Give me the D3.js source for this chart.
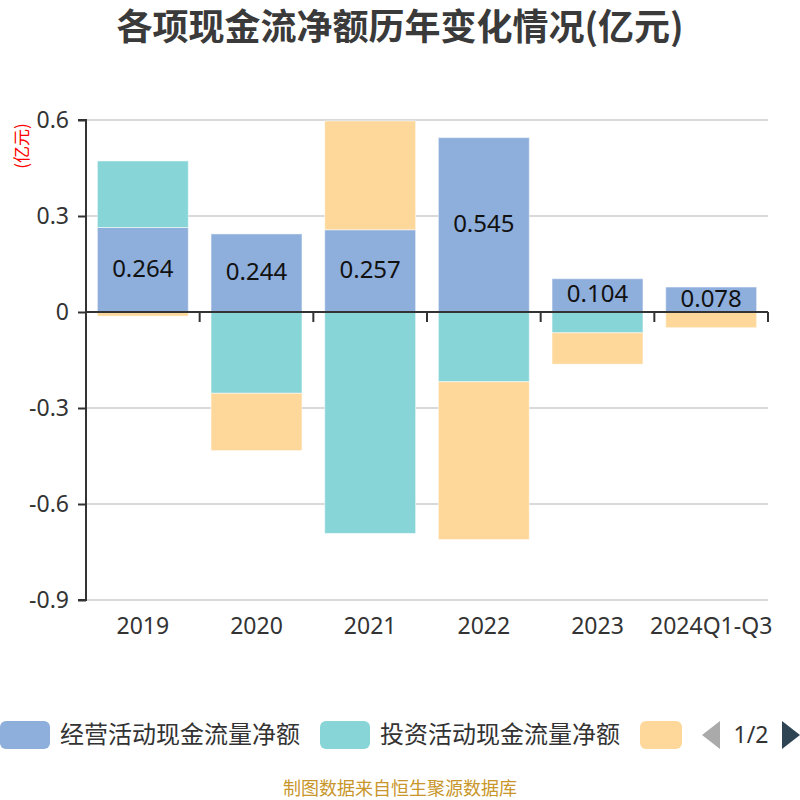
<!DOCTYPE html>
<html><head><meta charset="utf-8">
<script src="https://cdn.jsdelivr.net/npm/d3@7"></script>
<style>body{margin:0;background:#fff;}svg{display:block;font-family:"Noto Sans CJK SC","Noto Sans",sans-serif;}</style>
</head><body>
<svg id="c" width="800" height="800"></svg>
<script>
const categories = ["2019","2020","2021","2022","2023","2024Q1-Q3"];
const operating = [0.264, 0.244, 0.257, 0.545, 0.104, 0.078];
const investing = [0.208, -0.254, -0.692, -0.218, -0.065, 0];
const financing = [-0.013, -0.179, 0.340, -0.493, -0.098, -0.049];
const seriesNames = ["经营活动现金流量净额","投资活动现金流量净额","筹资活动现金流量净额"];
const colors = ["#8eaedb","#88d5d8","#fed89b"];
const yTicks = [-0.9,-0.6,-0.3,0,0.3,0.6];
const yTickLabels = ["-0.9","-0.6","-0.3","0","0.3","0.6"];

(function(){
const svg = d3.select("#c");
const pL = 86, pR = 768, pT = 120, pB = 600;
const x = d3.scaleBand().domain(categories).range([pL, pR]).paddingInner(0.2).paddingOuter(0.1);
const xb = d3.scaleBand().domain(categories).range([pL, pR]);
const y = d3.scaleLinear().domain([-0.9, 0.6]).range([pB, pT]);
const numFont = "'Noto Sans',sans-serif";

// title
svg.append("text").attr("x",400).attr("y",40).attr("text-anchor","middle")
  .attr("font-size",36).attr("font-weight","bold").attr("fill","#3a3a3a").text("各项现金流净额历年变化情况(亿元)");

// unit
svg.append("text").attr("transform","translate(28,146) rotate(-90)").attr("text-anchor","middle")
  .attr("font-size",17).attr("fill","#ff0000").text("(亿元)");

// gridlines
svg.append("g").selectAll("line").data(yTicks.filter(d=>d!==0)).join("line")
  .attr("x1",pL).attr("x2",pR).attr("y1",d=>y(d)).attr("y2",d=>y(d))
  .attr("stroke","#cccccc").attr("stroke-width",1.5);

// stacked bars
const series = [operating, investing, financing];
const g = svg.append("g");
categories.forEach((c,i)=>{
  let pos = 0, neg = 0;
  series.forEach((s,k)=>{
    const v = s[i];
    if (!v) return;
    let y0, y1;
    if (v >= 0) { y0 = pos; y1 = pos + v; pos = y1; }
    else { y0 = neg; y1 = neg + v; neg = y1; }
    const yt = y(Math.max(y0,y1)), yb2 = y(Math.min(y0,y1));
    g.append("rect").attr("x",x(c)).attr("width",x.bandwidth())
      .attr("y",yt).attr("height",yb2-yt).attr("fill",colors[k])
      .attr("stroke","#ffffff").attr("stroke-opacity",0.5).attr("stroke-width",1);
  });
});

// value labels
svg.append("g").selectAll("text").data(categories).join("text")
  .attr("x",c=>x(c)+x.bandwidth()/2)
  .attr("y",(c,i)=>(y(0)+y(operating[i]))/2+7)
  .attr("text-anchor","middle").attr("font-size",24).attr("fill","#111").attr("font-family",numFont)
  .text((c,i)=>operating[i].toFixed(3));

// y axis
const yAxis = d3.axisLeft(y).tickValues(yTicks).tickSize(8).tickPadding(9)
  .tickFormat((d,i)=>yTickLabels[i]);
const ya = svg.append("g").attr("transform",`translate(${pL},0)`).call(yAxis);
ya.select(".domain").attr("stroke","#333").attr("stroke-width",2).attr("d",`M-8,${pT}H0V${pB}H-8`);
ya.selectAll(".tick line").attr("stroke","#333").attr("stroke-width",2);
ya.selectAll(".tick text").attr("font-size",23).attr("fill","#333").attr("font-family",numFont);

// x axis at zero
const xa = svg.append("g").attr("transform",`translate(0,${y(0)})`);
xa.append("line").attr("x1",pL).attr("x2",pR).attr("stroke","#333").attr("stroke-width",2);
xa.selectAll("line.t").data(categories).join("line").attr("class","t")
  .attr("x1",c=>xb(c)+xb.bandwidth()).attr("x2",c=>xb(c)+xb.bandwidth())
  .attr("y1",0).attr("y2",10).attr("stroke","#333").attr("stroke-width",2);

// x labels
svg.append("g").selectAll("text").data(categories).join("text")
  .attr("x",c=>xb(c)+xb.bandwidth()/2).attr("y",634).attr("text-anchor","middle")
  .attr("font-size",23).attr("fill","#333").attr("font-family",numFont).text(c=>c);

// legend
const lg = svg.append("g");
const legX = [0, 320, 640];
seriesNames.forEach((n,k)=>{
  const w = k===2 ? 42 : 50;
  lg.append("rect").attr("x",legX[k]).attr("y",721).attr("width",w).attr("height",28).attr("rx",6)
    .attr("fill",colors[k]);
  if (k<2) lg.append("text").attr("x",legX[k]+60).attr("y",743).attr("font-size",24).attr("fill","#333").text(n);
});
lg.append("path").attr("d","M720,721L702,735L720,749Z").attr("fill","#aaaaaa");
lg.append("text").attr("x",751).attr("y",743).attr("text-anchor","middle").attr("font-size",23).attr("fill","#333")
  .attr("font-family",numFont).text("1/2");
lg.append("path").attr("d","M782,721L800,735L782,749Z").attr("fill","#2f4554");

// footer
svg.append("text").attr("x",400).attr("y",795).attr("text-anchor","middle").attr("font-size",18)
  .attr("fill","#c8962a").text("制图数据来自恒生聚源数据库");
})();
</script>
</body></html>
